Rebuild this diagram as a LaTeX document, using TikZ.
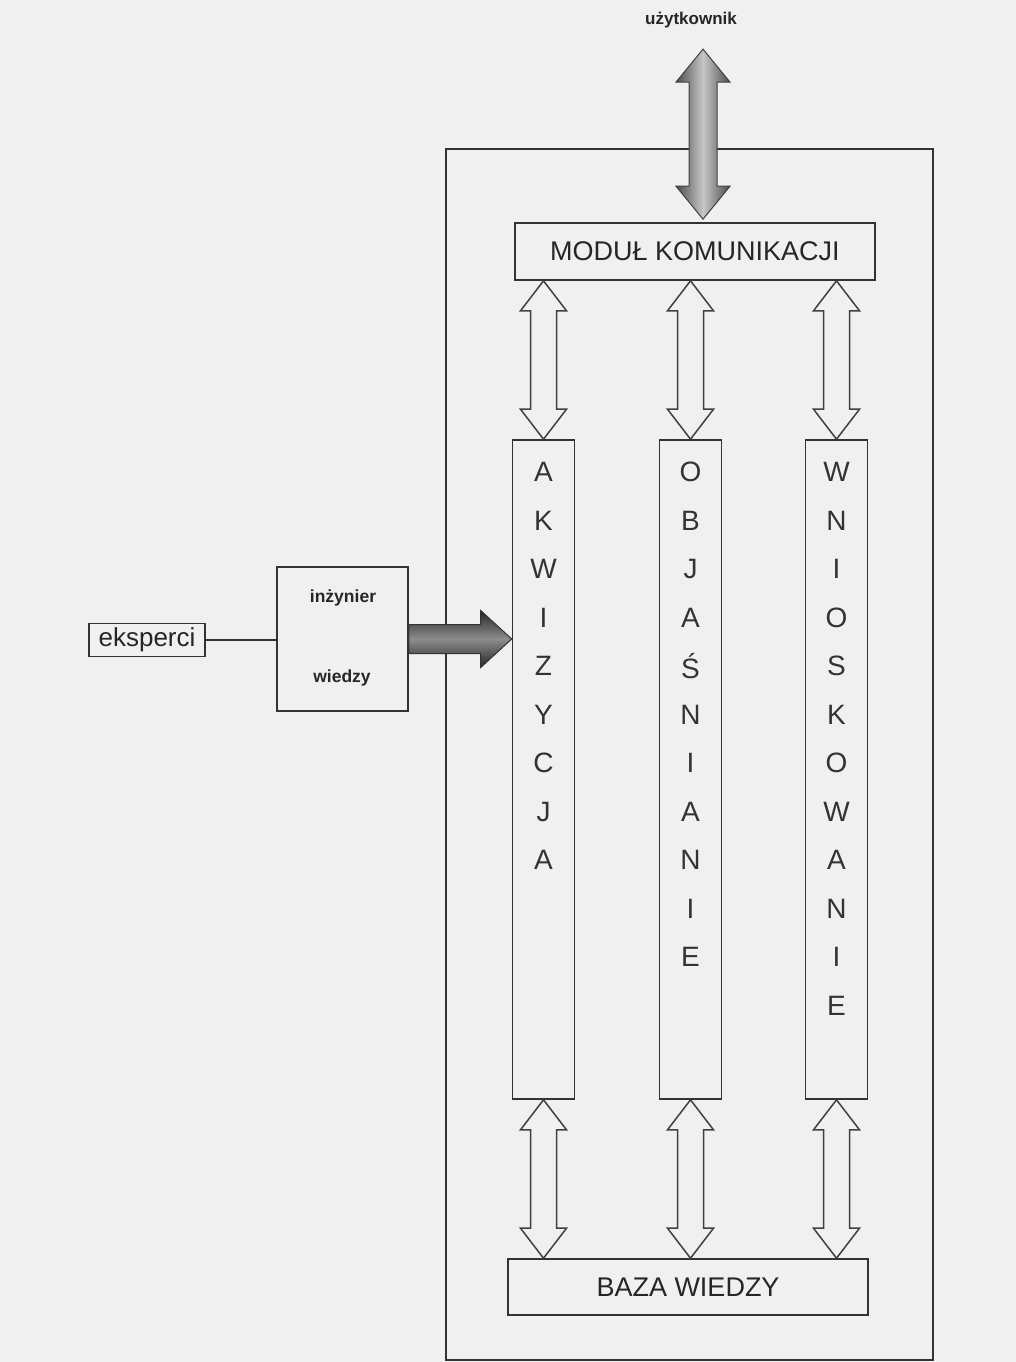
\documentclass[tikz,border=0pt]{standalone}
\usepackage{fontspec}
\setmainfont{Liberation Sans}
\usetikzlibrary{calc}

% 双向箭头：#1 样式，#2 上端，#3 下端，#4 箭头半宽，#5 箭杆半宽，#6 箭头长度
\newcommand\dwustrz[6]{%
  \draw[#1] let \p1=(#2), \p2=(#3) in
    (\x1,\y1) -- (\x1+#4pt,\y1-#6pt) -- (\x1+#5pt,\y1-#6pt)
    -- (\x1+#5pt,\y2+#6pt) -- (\x1+#4pt,\y2+#6pt) -- (\x1,\y2)
    -- (\x1-#4pt,\y2+#6pt) -- (\x1-#5pt,\y2+#6pt)
    -- (\x1-#5pt,\y1-#6pt) -- (\x1-#4pt,\y1-#6pt) -- cycle;}

\begin{document}
\begin{tikzpicture}[x=1pt, y=-1pt, line join=miter,
    ramka/.style={draw=black!80, line width=1.6pt},
    modul/.style={ramka, font=\fontsize{27}{30}\selectfont, text=black!85, inner sep=0pt},
    kolumna/.style={ramka, minimum width=62pt, minimum height=659pt, inner sep=0pt},
    litera/.style={font=\fontsize{28}{30}\selectfont, text=black!80, inner sep=0pt},
    pusta/.style={draw=black!75, line width=1.5pt},
    napis/.style={font=\bfseries\fontsize{17}{20}\selectfont, text=black!85, inner sep=0pt}]

    % --- 定义变量 ---
    % 字母的起始高度和行距
    \def\start{472}
    \def\krok{48.5}

    % --- 0. 背景（扫描页的浅灰色） ---
    \fill[black!6] (0,0) rectangle (1016,1362);
    \useasboundingbox (0,0) rectangle (1016,1362);

    % --- 1. 系统外框 ---
    \draw[ramka] (446,149) rectangle (933,1360);

    % --- 2. 模块 ---
    \node[napis] (uzyt) at (691,20) {użytkownik};
    \node[modul, minimum width=360pt, minimum height=57pt] (kom) at (695,251.5) {MODUŁ KOMUNIKACJI};
    \node[modul, minimum width=360pt, minimum height=56pt] (baza) at (688,1287) {BAZA WIEDZY};

    % 三个竖条
    \node[kolumna] (akw) at (543.5,769.5) {};
    \node[kolumna] (obj) at (690.5,769.5) {};
    \node[kolumna] (wn) at (836.5,769.5) {};

    % 竖排字母
    \foreach \lit [count=\i from 0] in {A,K,W,I,Z,Y,C,J,A}
        \node[litera] (akw-\i) at (543.5,{\start+\krok*\i}) {\lit};
    \foreach \lit [count=\i from 0] in {O,B,J,A,Ś,N,I,A,N,I,E}
        \node[litera] (obj-\i) at (690.5,{\start+\krok*\i}) {\lit};
    \foreach \lit [count=\i from 0] in {W,N,I,O,S,K,O,W,A,N,I,E}
        \node[litera] (wn-\i) at (836.5,{\start+\krok*\i}) {\lit};

    % --- 3. 左边：专家和知识工程师 ---
    \node[ramka, minimum width=116pt, minimum height=33pt, inner sep=0pt,
          font=\fontsize{26}{28}\selectfont, text=black!85] (eksp) at (147,640) {eksperci\hspace{16pt}};
    \node[ramka, minimum width=131pt, minimum height=144pt] (inz) at (342.5,639) {};
    \node[napis, font=\bfseries\fontsize{17.5}{20}\selectfont] (inz-1) at (343,598) {inżynier};
    \node[napis, font=\bfseries\fontsize{17.5}{20}\selectfont] (inz-2) at (342,678) {wiedzy};

    % 水平连线
    \draw[black!80, line width=1.8pt] (eksp.east) -- (eksp.east -| inz.west);

    % --- 4. 箭头 ---
    % 灰色双向箭头：用户 <-> 通信模块
    % 注意：middle color 必须写在 left/right color 之后
    \dwustrz{draw=black!75, line width=1pt, left color=black!70, right color=black!70, middle color=black!22}
        {$(uzyt.south -| kom.north)+(8,21)$}{$(kom.north)+(8,-3)$}{27}{14}{33}

    % 空心双向箭头
    \foreach \k in {akw,obj,wn} {
        \dwustrz{pusta}{kom.south -| \k.north}{\k.north}{23}{13}{30}
        \dwustrz{pusta}{\k.south}{\k.south |- baza.north}{23}{13}{30}
    }

    % 深灰色箭头：工程师 -> 知识获取
    \draw[draw=black!80, line width=1pt, top color=black!85, bottom color=black!85, middle color=black!45]
        let \p1=(inz.east), \p2=(akw.west) in
        (\x1,\y1+14.5pt) -- (\x2-31pt,\y1+14.5pt) -- (\x2-31pt,\y1+28.5pt) -- (\x2,\y1)
        -- (\x2-31pt,\y1-28.5pt) -- (\x2-31pt,\y1-14.5pt) -- (\x1,\y1-14.5pt) -- cycle;

\end{tikzpicture}
\end{document}
